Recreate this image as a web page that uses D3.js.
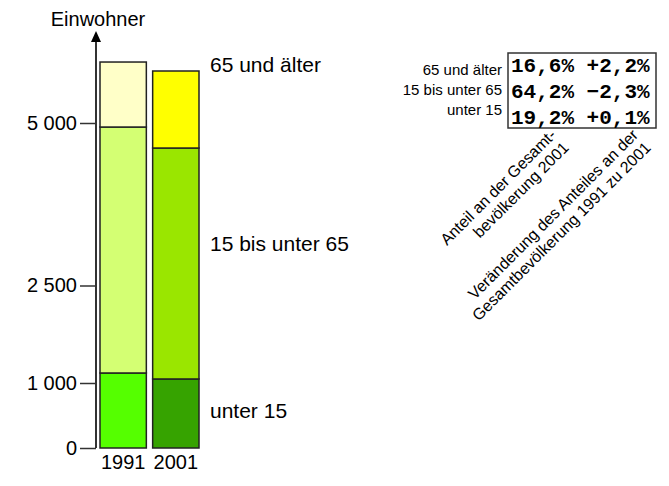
<!DOCTYPE html>
<html>
<head>
<meta charset="utf-8">
<script src="https://cdn.jsdelivr.net/npm/d3@7"></script>
<style>
  body { margin: 0; background: #fff; }
  svg { display: block; font-family: "Liberation Sans", Arial, sans-serif; }
</style>
</head>
<body>
<svg id="chart" width="669" height="486"></svg>
<script>
// Data
const years = ["1991", "2001"];
const groups = ["unter 15", "15 bis unter 65", "65 und älter"];
const under15 = [1154, 1062];
const mid = [3784, 3553];
const over65 = [1000, 1185];
const tickValues = [0, 1000, 2500, 5000];

const tableLabels = ["65 und älter", "15 bis unter 65", "unter 15"];
const share2001 = [16.6, 64.2, 19.2];
const shareChange = [2.2, -2.3, 0.1];

const colors = {
  "1991": ["#55ff00", "#d4ff73", "#ffffc8"],
  "2001": ["#36a300", "#9ae600", "#ffff00"]
};

const de = d3.formatLocale({ decimal: ",", thousands: " ", grouping: [3], currency: ["", " €"] });
const fmtInt = de.format(",d");
const fmtPct = de.format(".1f");
const fmtChg = de.format("+.1f");

const svg = d3.select("#chart");

const y = d3.scaleLinear().domain([0, 5000]).range([448, 123]);
const x = d3.scaleBand().domain(years).range([100, 199]).paddingInner(0.12);

// stacked bars
const rows = years.map((yr, i) => ({ year: yr, "unter 15": under15[i], "15 bis unter 65": mid[i], "65 und älter": over65[i] }));
const series = d3.stack().keys(groups)(rows);

series.forEach((s, k) => {
  svg.append("g").selectAll("rect")
    .data(s)
    .enter()
    .append("rect")
    .attr("x", d => x(d.data.year))
    .attr("width", x.bandwidth())
    .attr("y", d => y(d[1]))
    .attr("height", d => y(d[0]) - y(d[1]))
    .attr("fill", d => colors[d.data.year][k])
    .attr("stroke", "#222")
    .attr("stroke-width", 1.5);
});

// y axis
const axis = svg.append("g")
  .attr("transform", "translate(96,0)")
  .call(d3.axisLeft(y).tickValues(tickValues).tickFormat(fmtInt).tickSize(16).tickPadding(3));
axis.select(".domain").remove();
axis.selectAll("line").attr("stroke", "#333").attr("stroke-width", 1.5);
axis.selectAll("text").attr("font-size", 20).attr("fill", "#000").attr("font-family", "Liberation Sans, Arial, sans-serif");

svg.append("line")
  .attr("x1", 96).attr("x2", 96)
  .attr("y1", y(0)).attr("y2", 40)
  .attr("stroke", "#333").attr("stroke-width", 2);
svg.append("path")
  .attr("d", "M96,31 L101,42 L91,42 Z")
  .attr("fill", "#000");

svg.append("text")
  .attr("x", 98).attr("y", 26)
  .attr("text-anchor", "middle")
  .attr("font-size", 20)
  .text("Einwohner");

// year labels
svg.append("g").selectAll("text")
  .data(years)
  .enter()
  .append("text")
  .attr("x", d => x(d) + x.bandwidth() / 2)
  .attr("y", y(0) + 21)
  .attr("text-anchor", "middle")
  .attr("font-size", 20)
  .text(d => d);

// group labels beside the 2001 bar
const labelY = [411, 244, 65];
svg.append("g").selectAll("text")
  .data(groups)
  .enter()
  .append("text")
  .attr("x", 210)
  .attr("y", (d, i) => labelY[i] + 7)
  .attr("font-size", 21)
  .text(d => d);

// table
const rowY = d3.scalePoint().domain(tableLabels).range([65, 117]);
const labY = d3.scalePoint().domain(tableLabels).range([70, 110]);

svg.append("rect")
  .attr("x", 508).attr("y", 53)
  .attr("width", 148).attr("height", 75)
  .attr("fill", "none")
  .attr("stroke", "#333")
  .attr("stroke-width", 1.5);

svg.append("g").selectAll("text")
  .data(tableLabels)
  .enter()
  .append("text")
  .attr("x", 502)
  .attr("y", d => labY(d) + 5)
  .attr("text-anchor", "end")
  .attr("font-size", 15)
  .text(d => d);

svg.append("g").selectAll("text")
  .data(tableLabels)
  .enter()
  .append("text")
  .attr("x", 511)
  .attr("y", d => rowY(d) + 7)
  .attr("font-family", "Liberation Mono, Courier New, monospace")
  .attr("font-weight", "bold")
  .attr("font-size", 21)
  .attr("xml:space", "preserve")
  .text((d, i) => fmtPct(share2001[i]) + "% " + fmtChg(shareChange[i]) + "%");

// rotated column headers
const headers = [
  { x: 557, y: 136, lines: ["Anteil an der Gesamt-", "bevölkerung 2001"] },
  { x: 639, y: 136, lines: ["Veränderung des Anteiles an der", "Gesamtbevölkerung 1991 zu 2001"] }
];
headers.forEach(h => {
  const t = svg.append("text")
    .attr("transform", `translate(${h.x},${h.y}) rotate(-45)`)
    .attr("text-anchor", "end")
    .attr("font-size", 16);
  h.lines.forEach((line, i) => {
    t.append("tspan").attr("x", 0).attr("dy", i === 0 ? 0 : 18).text(line);
  });
});
</script>
</body>
</html>
